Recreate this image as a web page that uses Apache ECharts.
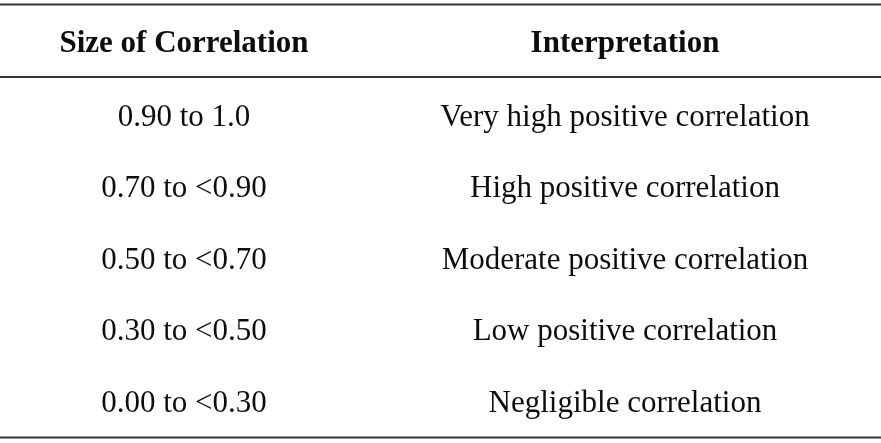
<!DOCTYPE html>
<html>
<head>
<meta charset="utf-8">
<script src="https://cdn.jsdelivr.net/npm/echarts@6/dist/echarts.min.js"></script>
<style>
html,body{margin:0;padding:0;background:#fff;}
#chart{width:881px;height:443px;}
</style>
</head>
<body>
<div id="chart"></div>
<script>
var headers = ['Size of Correlation', 'Interpretation'];
var sizeRanges = ['0.90 to 1.0', '0.70 to <0.90', '0.50 to <0.70', '0.30 to <0.50', '0.00 to <0.30'];
var interpretations = ['Very high positive correlation', 'High positive correlation', 'Moderate positive correlation', 'Low positive correlation', 'Negligible correlation'];

var W = 881;
var colX = [184, 625];
var headerY = 44;
var rowY0 = 117.5, rowStep = 71.6;
var lineYs = [4.5, 77, 437.5];
var font = '"Liberation Serif", "Times New Roman", serif';

var elements = [];
lineYs.forEach(function (y) {
  elements.push({
    type: 'line',
    shape: { x1: 0, y1: y, x2: W, y2: y },
    style: { stroke: '#333', lineWidth: 1.8 }
  });
});
headers.forEach(function (h, i) {
  elements.push({
    type: 'text',
    x: colX[i], y: headerY,
    style: { text: h, fill: '#0d0d0d', font: 'bold 31px ' + font, textAlign: 'center', textVerticalAlign: 'middle' }
  });
});
sizeRanges.forEach(function (r, i) {
  var y = rowY0 + i * rowStep;
  elements.push({
    type: 'text', x: colX[0], y: y,
    style: { text: r, fill: '#0d0d0d', font: '31px ' + font, textAlign: 'center', textVerticalAlign: 'middle' }
  });
  elements.push({
    type: 'text', x: colX[1], y: y,
    style: { text: interpretations[i], fill: '#0d0d0d', font: '31px ' + font, textAlign: 'center', textVerticalAlign: 'middle' }
  });
});

var chart = echarts.init(document.getElementById('chart'));
chart.setOption({
  backgroundColor: '#fff',
  animation: false,
  graphic: { elements: elements }
});
</script>
</body>
</html>
